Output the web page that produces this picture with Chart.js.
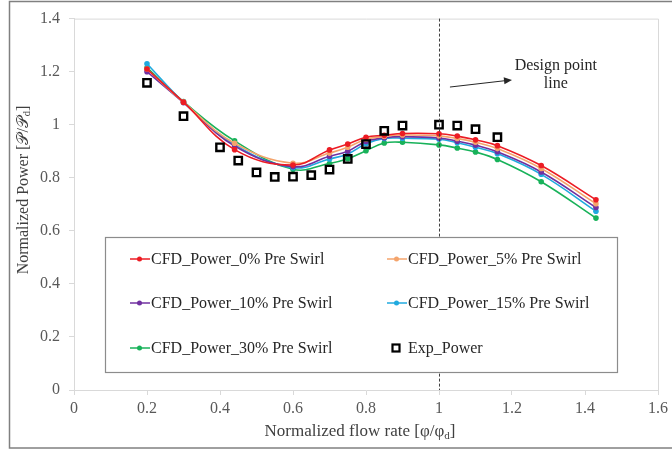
<!DOCTYPE html>
<html>
<head>
<meta charset="utf-8">
<script src="https://cdn.jsdelivr.net/npm/chart.js@4/dist/chart.umd.min.js"></script>
<style>
html,body{margin:0;padding:0;background:#fff;}
#wrap{width:672px;height:453px;position:relative;}
</style>
</head>
<body>
<div id="wrap"><canvas id="c" width="672" height="453"></canvas></div>
<script>
// ---- data ----
const cfdFlow = [0.2, 0.3, 0.44, 0.6, 0.7, 0.75, 0.8, 0.85, 0.9, 1.0, 1.05, 1.1, 1.16, 1.28, 1.43];
const power0  = [1.21, 1.085, 0.906, 0.848, 0.905, 0.927, 0.953, 0.960, 0.967, 0.966, 0.957, 0.943, 0.921, 0.846, 0.717];
const power5  = [1.21, 1.085, 0.930, 0.855, 0.893, 0.915, 0.945, 0.956, 0.961, 0.958, 0.948, 0.934, 0.910, 0.835, 0.702];
const power10 = [1.20, 1.083, 0.920, 0.842, 0.881, 0.900, 0.937, 0.951, 0.955, 0.950, 0.938, 0.923, 0.898, 0.822, 0.688];
const power15 = [1.23, 1.085, 0.925, 0.838, 0.871, 0.890, 0.928, 0.948, 0.949, 0.945, 0.932, 0.915, 0.891, 0.813, 0.674];
const power30 = [1.215, 1.087, 0.939, 0.832, 0.854, 0.872, 0.902, 0.931, 0.934, 0.924, 0.912, 0.897, 0.869, 0.785, 0.648];
const expFlow  = [0.2, 0.3, 0.4, 0.45, 0.5, 0.55, 0.6, 0.65, 0.7, 0.75, 0.8, 0.85, 0.9, 1.0, 1.05, 1.1, 1.16];
const expPower = [1.158, 1.032, 0.915, 0.865, 0.82, 0.803, 0.804, 0.81, 0.831, 0.871, 0.927, 0.977, 0.997, 1.0, 0.997, 0.983, 0.953];
const seriesLabels = ["CFD_Power_0% Pre Swirl", "CFD_Power_5% Pre Swirl", "CFD_Power_10% Pre Swirl", "CFD_Power_15% Pre Swirl", "CFD_Power_30% Pre Swirl", "Exp_Power"];
const xTicks = [0, 0.2, 0.4, 0.6, 0.8, 1, 1.2, 1.4, 1.6];
const yTicks = [0, 0.2, 0.4, 0.6, 0.8, 1, 1.2, 1.4];
const designFlow = 1.0;

const colors = ["#EC1C24", "#F4A46C", "#7030A0", "#20AADF", "#18B25A"];
const SERIF = '"Liberation Serif", "Times New Roman", serif';

function pts(xs, ys){ return xs.map((x,i)=>({x:x, y:ys[i]})); }
const cfdSets = [power0, power5, power10, power15, power30].map((arr, i) => ({
  label: seriesLabels[i],
  data: pts(cfdFlow, arr),
  borderColor: colors[i],
  backgroundColor: colors[i],
  borderWidth: 1.6,
  pointRadius: 2.8,
  pointBorderWidth: 0,
  tension: 0.4,
  showLine: true,
  order: 1
}));
const expSet = {
  label: seriesLabels[5],
  data: pts(expFlow, expPower),
  showLine: false,
  pointStyle: 'rect',
  pointRadius: 5.2,
  borderColor: '#000',
  backgroundColor: 'rgba(255,255,255,0)',
  pointBorderWidth: 2.4,
  order: 0
};

function drawRich(ctx, parts, x, y, size){
  let w = 0;
  parts.forEach(p => { ctx.font = (p.sub ? size*0.65 : size) + 'px ' + SERIF; w += ctx.measureText(p.t).width; });
  let cx = x - w/2;
  parts.forEach(p => {
    ctx.font = (p.sub ? size*0.65 : size) + 'px ' + SERIF;
    ctx.fillText(p.t, cx, p.sub ? y + size*0.22 : y);
    cx += ctx.measureText(p.t).width;
  });
}

const decor = {
  id: 'decor',
  beforeDraw(chart){
    const ctx = chart.ctx;
    ctx.save();
    ctx.fillStyle = '#fff';
    ctx.fillRect(0,0,chart.width,chart.height);
    ctx.restore();
  },
  afterDatasetsDraw(chart){
    const ctx = chart.ctx, xs = chart.scales.x, ys = chart.scales.y, a = chart.chartArea;
    ctx.save();
    ctx.strokeStyle = '#d9d9d9'; ctx.lineWidth = 1;
    ctx.beginPath();
    ctx.moveTo(a.left, a.top + 0.5); ctx.lineTo(a.right + 0.5, a.top + 0.5); ctx.lineTo(a.right + 0.5, a.bottom);
    ctx.stroke();
    const dx = Math.round(xs.getPixelForValue(designFlow)) + 0.5;
    ctx.strokeStyle = '#404040'; ctx.lineWidth = 1; ctx.setLineDash([3,2]);
    ctx.beginPath(); ctx.moveTo(dx, a.top); ctx.lineTo(dx, a.bottom); ctx.stroke();
    ctx.setLineDash([]);
    ctx.fillStyle = '#262626'; ctx.textAlign = 'center'; ctx.textBaseline = 'middle';
    ctx.font = '16px ' + SERIF;
    ctx.fillText('Design point', xs.getPixelForValue(1.32), ys.getPixelForValue(1.221));
    ctx.fillText('line', xs.getPixelForValue(1.32), ys.getPixelForValue(1.156));
    const x1 = xs.getPixelForValue(1.03), y1 = ys.getPixelForValue(1.142);
    const x2 = xs.getPixelForValue(1.2), y2 = ys.getPixelForValue(1.169);
    ctx.strokeStyle = '#262626'; ctx.lineWidth = 1;
    const ang = Math.atan2(y2-y1, x2-x1);
    ctx.beginPath(); ctx.moveTo(x1,y1); ctx.lineTo(x2 - 6*Math.cos(ang), y2 - 6*Math.sin(ang)); ctx.stroke();
    ctx.fillStyle = '#262626';
    ctx.beginPath();
    ctx.moveTo(x2, y2);
    ctx.lineTo(x2 - 8*Math.cos(ang) + 3.5*Math.sin(ang), y2 - 8*Math.sin(ang) - 3.5*Math.cos(ang));
    ctx.lineTo(x2 - 8*Math.cos(ang) - 3.5*Math.sin(ang), y2 - 8*Math.sin(ang) + 3.5*Math.cos(ang));
    ctx.closePath(); ctx.fill();

    // legend box
    const L = 105, T = 237, R = 617, B = 372;
    ctx.fillStyle = '#fff'; ctx.fillRect(L, T, R-L, B-T);
    ctx.strokeStyle = '#8c8c8c'; ctx.lineWidth = 1.2;
    ctx.strokeRect(L+0.5, T+0.5, R-L, B-T);
    const rows = [259, 303, 348], cols = [130, 387];
    ctx.textAlign = 'left'; ctx.textBaseline = 'middle';
    chart.data.datasets.forEach((ds, k) => {
      const cx = cols[k % 2], cy = rows[Math.floor(k/2)];
      if (ds.showLine === false) {
        ctx.strokeStyle = '#000'; ctx.lineWidth = 2.2;
        ctx.strokeRect(cx + 5.5, cy - 3.5, 7, 7);
      } else {
        ctx.strokeStyle = ds.borderColor; ctx.lineWidth = 1.5;
        ctx.beginPath(); ctx.moveTo(cx, cy); ctx.lineTo(cx + 20, cy); ctx.stroke();
        ctx.fillStyle = ds.borderColor;
        ctx.beginPath(); ctx.arc(cx + 9.5, cy, 2.5, 0, Math.PI*2); ctx.fill();
      }
      ctx.fillStyle = '#262626'; ctx.font = '16px ' + SERIF;
      ctx.fillText(ds.label, cx + 21, cy + 1);
    });
    ctx.restore();
  },
  afterDraw(chart){
    const ctx = chart.ctx;
    ctx.save();
    ctx.fillStyle = '#404040'; ctx.textBaseline = 'middle'; ctx.textAlign = 'left';
    drawRich(ctx, [{t:'Normalized flow rate [φ/φ'},{t:'d',sub:true},{t:']'}], 360, 432, 17);
    ctx.translate(24, 190); ctx.rotate(-Math.PI/2);
    drawRich(ctx, [{t:'Normalized Power ['},{t:'𝒫/𝒫'},{t:'d',sub:true},{t:']'}], 0, 0, 16);
    ctx.restore();
    ctx.save();
    ctx.strokeStyle = '#808080'; ctx.lineWidth = 1.5;
    ctx.strokeRect(9.5, 1.5, 700, 446.5);
    ctx.restore();
  }
};

const fmt = v => String(Number(Number(v).toFixed(1)));
const tickFont = { family: SERIF, size: 16 };
new Chart(document.getElementById('c'), {
  type: 'scatter',
  data: { datasets: [...cfdSets, expSet] },
  options: {
    responsive: false,
    animation: false,
    devicePixelRatio: 1,
    layout: { padding: { left: 0, right: 14, top: 14, bottom: 0 } },
    plugins: { legend: { display: false }, tooltip: { enabled: false } },
    scales: {
      x: {
        type: 'linear', min: 0, max: 1.6,
        afterBuildTicks: s => { s.ticks = xTicks.map(v => ({ value: v })); },
        afterFit: s => { s.height = 63; },
        ticks: { font: tickFont, color: '#595959', padding: 4, maxRotation: 0, autoSkip: false, callback: fmt },
        grid: { drawOnChartArea: false, drawTicks: true, tickLength: 5, color: '#d9d9d9' },
        border: { color: '#d9d9d9' }
      },
      y: {
        type: 'linear', min: 0, max: 1.4,
        afterBuildTicks: s => { s.ticks = yTicks.map(v => ({ value: v })); },
        afterFit: s => { s.width = 74; },
        ticks: { font: tickFont, color: '#595959', padding: 9, autoSkip: false, callback: fmt },
        grid: { drawOnChartArea: false, drawTicks: true, tickLength: 5, color: '#d9d9d9' },
        border: { color: '#d9d9d9' }
      }
    }
  },
  plugins: [decor]
});
</script>
</body>
</html>
